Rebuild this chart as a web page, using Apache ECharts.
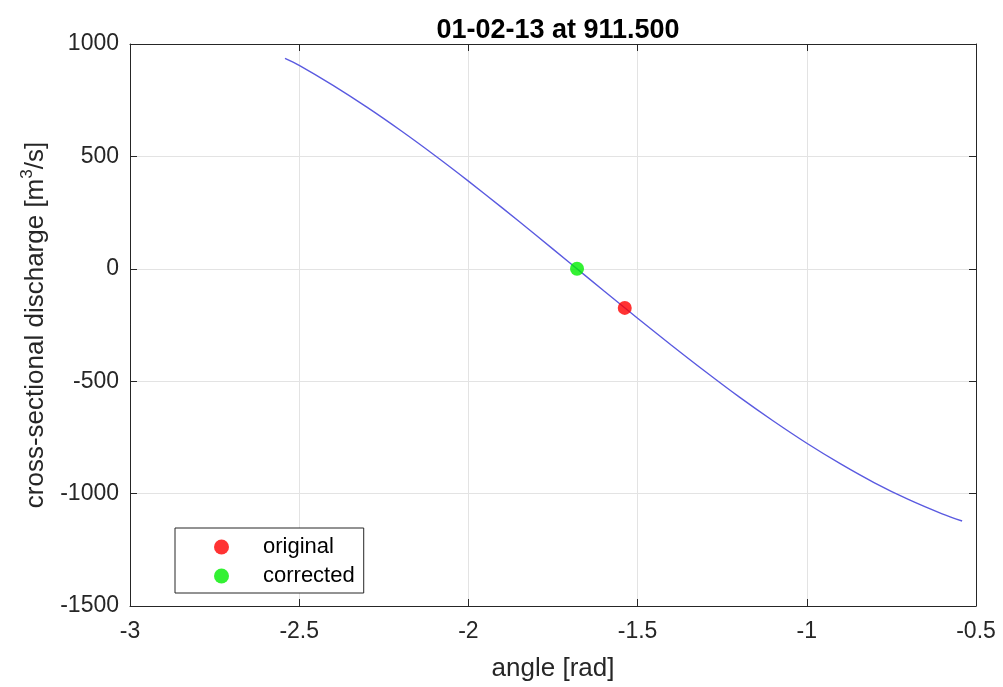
<!DOCTYPE html>
<html>
<head>
<meta charset="utf-8">
<script src="https://cdn.jsdelivr.net/npm/echarts@6/dist/echarts.min.js"></script>
<style>html,body{margin:0;padding:0;background:#fff;}#c{width:1003px;height:687px;}</style>
</head>
<body>
<div id="c"></div>
<script>
// Curve: angle [rad] and discharge [m3/s]
const curveAngle = [-2.542, -2.5, -2.4, -2.3, -2.2, -2.1, -2.0, -1.9, -1.8, -1.7, -1.6, -1.5, -1.4, -1.3, -1.2, -1.1, -1.0, -0.9, -0.8, -0.7, -0.6, -0.541];
const curveQ = [936, 905, 816, 719, 615, 505, 390, 271, 149, 26, -98, -220, -340, -457, -570, -676, -776, -868, -952, -1026, -1090, -1122];
const originalPt = [-1.538, -174];
const correctedPt = [-1.679, 0];
const xTicks = [-3, -2.5, -2, -1.5, -1, -0.5];
const yTicks = [-1500, -1000, -500, 0, 500, 1000];

const chart = echarts.init(document.getElementById('c'));
const font = 'Liberation Sans, Arial, sans-serif';
const axisCol = '#262626';
const curveData = curveAngle.map((a, i) => [a, curveQ[i]]);

const baseX = {
  type: 'value', min: xTicks[0], max: xTicks[xTicks.length - 1], interval: 0.5,
  axisLine: { show: true, onZero: false, lineStyle: { color: axisCol, width: 1 } },
  axisTick: { show: true, inside: true, length: 7, lineStyle: { color: axisCol } },
  splitLine: { show: false }
};
const baseY = {
  type: 'value', min: yTicks[0], max: yTicks[yTicks.length - 1], interval: 500,
  axisLine: { show: true, onZero: false, lineStyle: { color: axisCol, width: 1 } },
  axisTick: { show: true, inside: true, length: 7, lineStyle: { color: axisCol } },
  splitLine: { show: false }
};

chart.setOption({
  animation: false,
  backgroundColor: '#fff',
  title: {
    text: '01-02-13 at 911.500',
    left: 553, top: 12, textAlign: 'center',
    textStyle: { fontFamily: font, fontSize: 27, fontWeight: 'bold', color: '#000' }
  },
  grid: { left: 130, right: 27, top: 44, bottom: 80 },
  legend: {
    data: ['original', 'corrected'],
    orient: 'vertical',
    left: 175, top: 528,
    icon: 'circle', itemWidth: 15, itemHeight: 15, itemGap: 7,
    padding: [8, 9, 6, 39],
    borderColor: axisCol, borderWidth: 1, backgroundColor: '#fff',
    textStyle: { fontFamily: font, fontSize: 22, color: '#000', lineHeight: 22, padding: [0, 0, 0, 29] }
  },
  xAxis: [
    Object.assign({}, baseX, {
      position: 'bottom',
      axisLabel: { fontFamily: font, fontSize: 23, color: axisCol, margin: 14 },
      splitLine: { show: true, lineStyle: { color: '#e3e3e3', width: 1 } },
      name: 'angle [rad]', nameLocation: 'middle', nameGap: 50,
      nameTextStyle: { fontFamily: font, fontSize: 26, color: axisCol }
    }),
    Object.assign({}, baseX, { position: 'top', axisLabel: { show: false } })
  ],
  yAxis: [
    Object.assign({}, baseY, {
      position: 'left',
      axisLabel: { fontFamily: font, fontSize: 23, color: axisCol, margin: 11, formatter: v => String(v) },
      splitLine: { show: true, lineStyle: { color: '#e3e3e3', width: 1 } },
      name: '{n|cross-sectional discharge [m}{sup|3}{n|/s]}', nameLocation: 'middle', nameGap: 68,
      nameTextStyle: {
        fontFamily: font, fontSize: 26, color: axisCol,
        rich: {
          n: { fontFamily: font, fontSize: 26, color: axisCol, lineHeight: 30, verticalAlign: 'bottom' },
          sup: { fontFamily: font, fontSize: 17, color: axisCol, lineHeight: 30, verticalAlign: 'top' }
        }
      }
    }),
    Object.assign({}, baseY, { position: 'right', axisLabel: { show: false } })
  ],
  series: [
    {
      name: 'curve', type: 'line', data: curveData, smooth: 0.3, showSymbol: false,
      lineStyle: { color: '#5a5ae0', width: 1.4 }, z: 2
    },
    {
      name: 'original', type: 'scatter', data: [originalPt], symbolSize: 14,
      itemStyle: { color: '#ff0000' }, z: 3
    },
    {
      name: 'corrected', type: 'scatter', data: [correctedPt], symbolSize: 14,
      itemStyle: { color: '#00ee00' }, z: 3
    }
  ]
});
</script>
</body>
</html>
